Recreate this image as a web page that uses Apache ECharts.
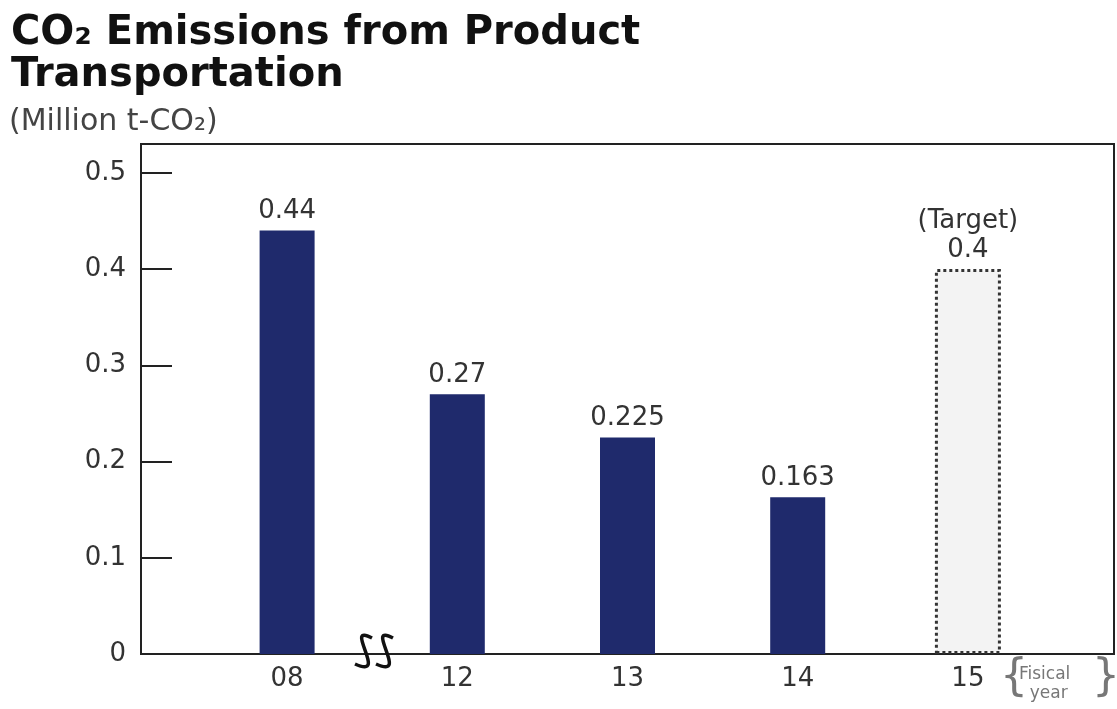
<!DOCTYPE html>
<html>
<head>
<meta charset="utf-8">
<title>CO2 Emissions from Product Transportation</title>
<script src="https://cdn.jsdelivr.net/npm/echarts@6/dist/echarts.min.js"></script>
<style>
  html, body { margin: 0; padding: 0; background: #fff; }
  #main { width: 1117px; height: 709px; }
</style>
</head>
<body>
<div id="main"></div>
<script>
// fiscal years on the x axis
const years = ['08', '12', '13', '14', '15'];
// actual emissions (million t-CO2), '-' = no bar
const actual = [0.44, 0.27, 0.225, 0.163, '-'];
// FY15 target
const target = ['-', '-', '-', '-', 0.4];
const yTicks = [0, 0.1, 0.2, 0.3, 0.4, 0.5];

const font = 'DejaVu Sans';
const chart = echarts.init(document.getElementById('main'));

const option = {
  backgroundColor: '#fff',
  animation: false,
  textStyle: { fontFamily: font },
  title: [
    {
      text: 'CO₂ Emissions from Product\nTransportation',
      left: 6, top: 8,
      textStyle: { fontSize: 40, fontWeight: 'bold', color: '#111', lineHeight: 42, fontFamily: font }
    },
    {
      text: '(Million t-CO₂)',
      left: 4, top: 102,
      textStyle: { fontSize: 30, fontWeight: 'normal', color: '#444', fontFamily: font }
    }
  ],
  grid: [
    // frame box
    { left: 141, right: 3, top: 144, bottom: 55, show: true, borderColor: '#222', borderWidth: 2, backgroundColor: 'transparent' },
    // data area
    { left: 202, right: 64, top: 144, bottom: 55 }
  ],
  xAxis: [
    { gridIndex: 0, type: 'value', show: false },
    {
      gridIndex: 1, type: 'category', data: years,
      axisLine: { show: false }, axisTick: { show: false },
      axisLabel: { fontSize: 26, color: '#333', margin: 12 }
    },
    { gridIndex: 1, type: 'category', data: years, show: false }
  ],
  yAxis: [
    { gridIndex: 0, type: 'value', show: false },
    {
      gridIndex: 1, type: 'value', min: 0, max: 0.53, interval: 0.1,
      offset: 61,
      splitLine: { show: false },
      axisLine: { show: true, lineStyle: { color: '#222', width: 2 } },
      axisTick: { show: true, inside: true, length: 31, lineStyle: { color: '#222', width: 2 } },
      axisLabel: {
        fontSize: 26, color: '#333', margin: 15,
        formatter: v => yTicks.some(t => Math.abs(t - v) < 1e-9) ? (v === 0 ? '0' : v.toFixed(1)) : ''
      }
    }
  ],
  series: [
    {
      name: 'Actual', type: 'bar', xAxisIndex: 1, yAxisIndex: 1,
      data: actual, barWidth: 55,
      itemStyle: { color: '#1f2a6c' },
      label: { show: true, position: 'top', distance: 6, fontSize: 26, color: '#333' }
    },
    {
      name: 'Target', type: 'bar', xAxisIndex: 2, yAxisIndex: 1,
      data: target, barWidth: 66,
      itemStyle: { color: '#f3f3f3', borderColor: '#333', borderWidth: 3, borderType: 'dotted' },
      label: {
        show: true, position: 'top', distance: 4, fontSize: 26, color: '#333', lineHeight: 29,
        formatter: p => '(Target)\n' + p.value
      }
    }
  ],
  graphic: [
    // axis break mark between 08 and 12 (two S shapes)
    {
      type: 'bezierCurve',
      shape: { x1: 372, y1: 638, cpx1: 342, cpy1: 622, cpx2: 390, cpy2: 680, x2: 355, y2: 664 },
      style: { stroke: '#111', lineWidth: 3.5, fill: null }
    },
    {
      type: 'bezierCurve',
      shape: { x1: 393, y1: 638, cpx1: 363, cpy1: 622, cpx2: 411, cpy2: 680, x2: 376, y2: 664 },
      style: { stroke: '#111', lineWidth: 3.5, fill: null }
    },
    // fiscal year unit
    {
      type: 'text', left: 1000, top: 657,
      style: { text: '{', fontSize: 44, fill: '#777', fontFamily: font }
    },
    {
      type: 'text', left: 1019, top: 665,
      style: { text: 'Fisical\n  year', fontSize: 17, lineHeight: 19, fill: '#777', fontFamily: font }
    },
    {
      type: 'text', left: 1092, top: 657,
      style: { text: '}', fontSize: 44, fill: '#777', fontFamily: font }
    }
  ]
};

chart.setOption(option);
</script>
</body>
</html>
